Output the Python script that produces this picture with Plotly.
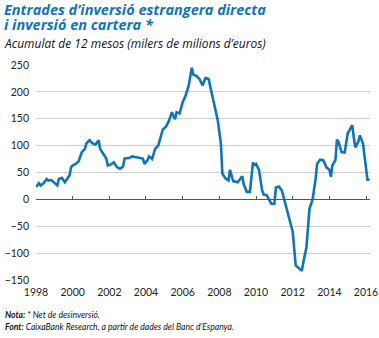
import plotly.graph_objects as go

dates = [
    "1998-01", "1998-03", "1998-04", "1998-06", "1998-08", "1998-09", "1998-11",
    "1999-01", "1999-03", "1999-04", "1999-06", "1999-08", "1999-10", "1999-11", "1999-12",
    "2000-01", "2000-03", "2000-05", "2000-07", "2000-09", "2000-10", "2000-12",
    "2001-02", "2001-04", "2001-06", "2001-07", "2001-09", "2001-11", "2001-12",
    "2002-02", "2002-04", "2002-06", "2002-08", "2002-10", "2002-11",
    "2003-02", "2003-04", "2003-06", "2003-09", "2003-11", "2003-12",
    "2004-02", "2004-03", "2004-05", "2004-07", "2004-09", "2004-12",
    "2005-02", "2005-04", "2005-06", "2005-08", "2005-09", "2005-11",
    "2006-01", "2006-03", "2006-05", "2006-07", "2006-08", "2006-10", "2006-12",
    "2007-02", "2007-04", "2007-06", "2007-08", "2007-10", "2007-12",
    "2008-02", "2008-03", "2008-05", "2008-07", "2008-08", "2008-10",
    "2009-01", "2009-04", "2009-05", "2009-07", "2009-09", "2009-11", "2009-12",
    "2010-01", "2010-03", "2010-05", "2010-06", "2010-08", "2010-11",
    "2011-01", "2011-02", "2011-04", "2011-06", "2011-08", "2011-11",
    "2012-01", "2012-03", "2012-05", "2012-07", "2012-08", "2012-10", "2012-12",
    "2013-02", "2013-04", "2013-05", "2013-07", "2013-09", "2013-11",
    "2014-01", "2014-02", "2014-03", "2014-05", "2014-06", "2014-07", "2014-09", "2014-11",
    "2015-01", "2015-02", "2015-04", "2015-05", "2015-06", "2015-08", "2015-09", "2015-11",
    "2016-01", "2016-02", "2016-03",
]
values = [
    23, 30, 26, 30, 38, 35, 36,
    30, 26, 38, 40, 32, 41, 45, 60,
    63, 66, 71, 88, 94, 104, 110,
    104, 102, 110, 94, 85, 76, 63,
    65, 69, 60, 57, 61, 76,
    77, 80, 79, 77, 76, 66,
    73, 80, 75, 94, 100, 130,
    135, 146, 162, 149, 162, 160,
    181, 193, 212, 245, 232, 230, 224,
    212, 226, 224, 200, 175, 147,
    104, 48, 39, 35, 55, 34,
    32, 43, 28, 14, 14, 69, 64,
    66, 55, 17, 9, 8, -8,
    -8, 22, 24, 16, -6, -36,
    -60, -123, -129, -133, -117, -89, -17,
    0, 38, 66, 74, 73, 60,
    55, 42, 63, 73, 111, 107, 88, 87,
    123, 128, 138, 116, 97, 107, 119, 104,
    63, 35, 39,
]

y_ticks = [-150, -100, -50, 0, 50, 100, 150, 200, 250]
x_ticks = ["1998", "2000", "2002", "2004", "2006", "2008", "2010", "2012", "2014", "2016"]

title_lines = ["Entrades d\u2019inversió estrangera directa", "i inversió en cartera *"]
subtitle = "Acumulat de 12 mesos (milers de milions d\u2019euros)"
note = "<b>Nota:</b> * Net de desinversió."
source = "<b>Font:</b> CaixaBank Research, a partir de dades del Banc d\u2019Espanya."

W, H = 379, 338
L, R, T, B = 36, 9, 65, 58
pw, ph = W - L - R, H - T - B

def px(x):
    return (x - L) / pw

def py(y):
    return (H - B - y) / ph

blue = "#0f74bb"
fig = go.Figure()
fig.add_trace(go.Scatter(x=dates, y=values, mode="lines",
                         line=dict(color=blue, width=2.6), showlegend=False,
                         hoverinfo="skip"))

xr = ["1998-01-01", "2016-03-20"]
fig.update_layout(
    width=W, height=H,
    margin=dict(l=L, r=R, t=T, b=B, autoexpand=False),
    paper_bgcolor="white", plot_bgcolor="white",
    font=dict(family="Lato", color="#222"),
    xaxis=dict(type="date", range=xr, tickvals=[t + "-01-01" for t in x_ticks],
               ticktext=x_ticks, showgrid=False, zeroline=False, showline=False,
               ticks="", tickfont=dict(size=10.5, color="#222"), automargin=False,
               ticklabelstandoff=4),
    xaxis2=dict(type="date", range=xr, overlaying="x", anchor="free",
                position=(0 - (-150)) / 400, side="bottom",
                tickvals=[t + "-01-01" for t in x_ticks], showticklabels=False,
                showgrid=False, zeroline=False, showline=True, linecolor="#555",
                linewidth=1, ticks="inside", ticklen=3, tickcolor="#555",
                automargin=False),
    yaxis=dict(range=[-150, 250], tickvals=y_ticks, showgrid=True,
               gridcolor="#cfcfcf", gridwidth=1, zeroline=False, automargin=False,
               tickfont=dict(size=10.5, color="#222"), ticks="", ticklabelstandoff=6),
)
fig.add_trace(go.Scatter(x=[xr[0]], y=[None], xaxis="x2", yaxis="y",
                         showlegend=False, hoverinfo="skip"))

ann = [
    (title_lines[0], 9.5, 14.5, blue, True, "Open Sans"),
    (title_lines[1], 25, 14.5, blue, True, "Open Sans"),
    (subtitle, 43, 12, "#111", False, "Open Sans"),
]
for txt, ypix, size, col, bold, fam in ann:
    t = f"<b><i>{txt}</i></b>" if bold else f"<i>{txt}</i>"
    fig.add_annotation(text=t, xref="paper", yref="paper", x=px(2), y=py(ypix),
                       xanchor="left", yanchor="middle", showarrow=False,
                       font=dict(size=size, color=col, family=fam))
for txt, ypix in [(note, 315), (source, 326.5)]:
    fig.add_annotation(text=f"<i>{txt}</i>", xref="paper", yref="paper", x=px(3), y=py(ypix),
                       xanchor="left", yanchor="middle", showarrow=False,
                       font=dict(size=8.6, color="#111", family="Lato"))

fig.write_html("out.html")
